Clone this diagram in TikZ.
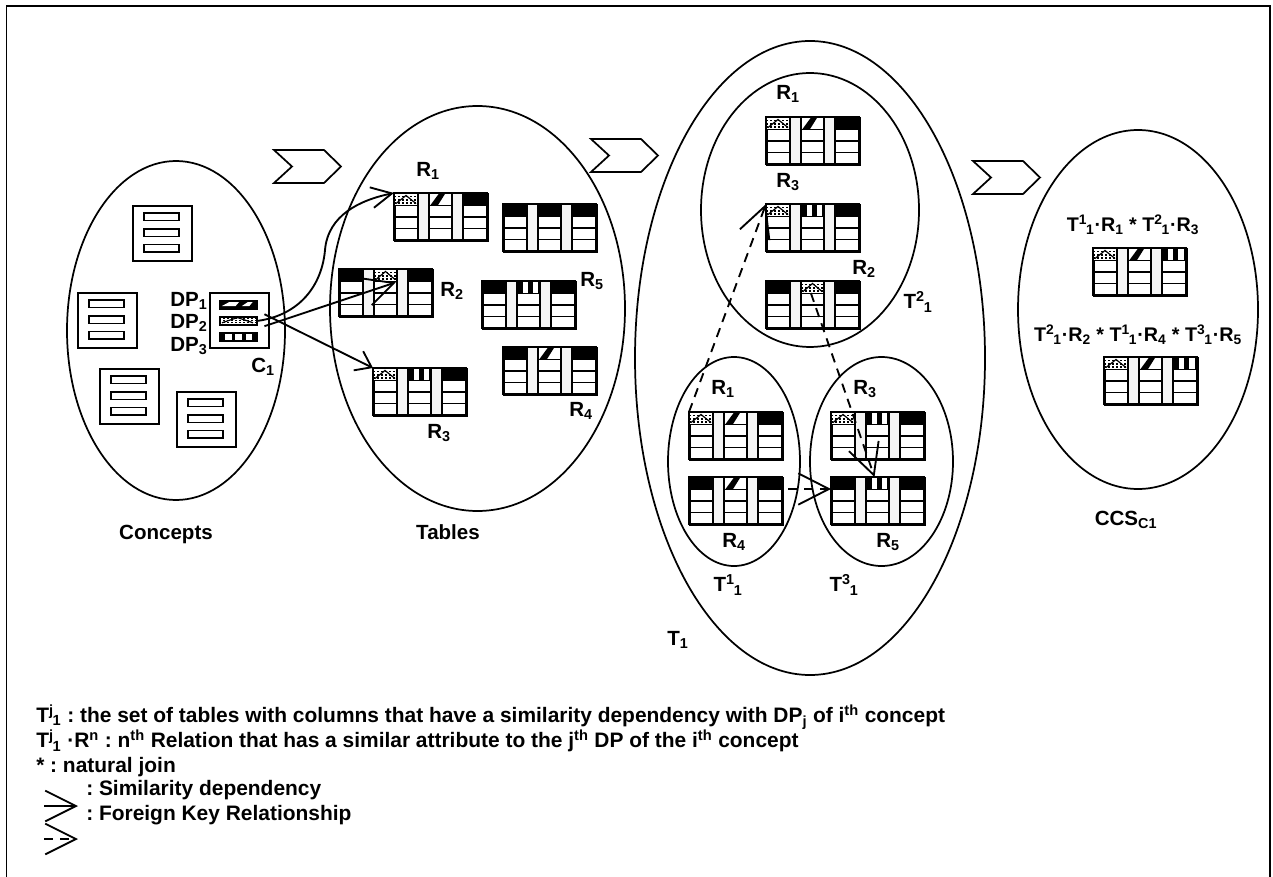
\documentclass[tikz,border=0pt]{standalone}
\usepackage{fontspec}
\setmainfont{Liberation Sans}
\usepackage{tikz}
\usetikzlibrary{shapes.geometric, arrows.meta}

\tikzset{
  lbl/.style={font=\fontsize{15.4pt}{18pt}\bfseries\selectfont,inner sep=0pt},
  joinlbl/.style={font=\fontsize{14.8pt}{18pt}\bfseries\selectfont,inner sep=0pt},
  legendtxt/.style={font=\fontsize{15.7pt}{18pt}\bfseries\selectfont,inner sep=0pt,anchor=west},
  setoval/.style={draw,ellipse,line width=1.3pt,inner sep=0pt},
  conceptbox/.style={draw,line width=1.3pt,fill=white,anchor=north west,inner sep=0pt,
        minimum width=44.25pt,minimum height=41.25pt},
  tablebox/.style={draw,line width=1.5pt,anchor=north west,inner sep=0pt,
        minimum width=69.75pt,minimum height=35.25pt},
  dpbar/.style={draw,line width=1.3pt,anchor=north west,inner sep=0pt,
        minimum width=27.75pt,minimum height=6pt},
  link/.style={line width=1.4pt},
  fklink/.style={line width=1.4pt,dash pattern=on 7pt off 5pt},
  barb/.style 2 args={-{Straight Barb[length=#1,width=#2]}}
}

% header cells, #1 = width, #2 = height
\newcommand{\hdrk}[2]{\fill[black] (0,0) rectangle (#1,#2);}
\newcommand{\hdrv}[2]{\fill[black] (0,0) rectangle (#1,#2);
  \fill[white] (.25*#1,0) rectangle (.46*#1,#2);
  \fill[white] (.68*#1,0) rectangle (.92*#1,#2);}
\newcommand{\hdrt}[2]{\fill[black] (0,0) rectangle (#1,#2);
  \fill[white] (.16*#1,0) rectangle (.34*#1,#2);
  \fill[white] (.43*#1,0) rectangle (.61*#1,#2);
  \fill[white] (.72*#1,0) rectangle (.88*#1,#2);}
\newcommand{\hdrd}[2]{\fill[white] (0,0) rectangle (#1,#2);
  \fill[black] (.05*#1,#2) -- (.45*#1,0) -- (.72*#1,0) -- (.38*#1,#2) -- cycle;}
\newcommand{\hdrb}[2]{\fill[black] (0,0) rectangle (#1,#2);
  \fill[white] (.08*#1,.75*#2) -- (.3*#1,.2*#2) -- (.55*#1,.2*#2) -- (.45*#1,.75*#2) -- cycle;
  \fill[white] (.62*#1,.75*#2) -- (.8*#1,.2*#2) -- (.92*#1,.2*#2) -- (.82*#1,.75*#2) -- cycle;}
\newcommand{\hdrh}[2]{\fill[white] (0,0) rectangle (#1,#2);
  \foreach \hy in {.3,.55,.8}{
    \draw[line width=1pt,dash pattern=on 1.2pt off 1.8pt] (0,\hy*#2) -- (#1,\hy*#2);
  }
  \draw[line width=.9pt] (.08*#1,.85*#2) -- (.5*#1,.2*#2) -- (.92*#1,.85*#2);}

% #1 name, #2 x, #3 y, #4 #5 #6 header cell types
\newcommand{\dbtable}[6]{%
  \node[tablebox,fill=white] (#1) at (#2,#3) {};
  \begin{scope}[shift={(#2,#3)}]
    \fill[black!4] (24,0) rectangle (35,47);
    \fill[black!4] (58,0) rectangle (69,47);
    \foreach \cx/\cw/\ct in {0/24/#4,35/23/#5,69/24/#6}{
      \begin{scope}[shift={(\cx,0)}]
        \csname hdr\ct\endcsname{\cw}{12.5}
        \draw[line width=1.3pt] (0,12.5) -- (\cw,12.5)
           (0,24) -- (\cw,24) (0,35.5) -- (\cw,35.5);
      \end{scope}
    }
    \draw[line width=1.2pt] (24,0) -- (24,47) (35,0) -- (35,47)
       (58,0) -- (58,47) (69,0) -- (69,47);
    \draw[line width=1.5pt] (0,0) rectangle (93,47);
  \end{scope}}

\newcommand{\Tji}[2]{T\textsuperscript{#1}\kern-.8pt\textsubscript{#2}}

\begin{document}
\frenchspacing
\begin{tikzpicture}[x=0.75pt,y=-0.75pt]
  \useasboundingbox (0,0) rectangle (1273,877);
  \draw[line width=1.4pt] (6.5,877) -- (6.5,6) -- (1270,6) -- (1270,877);

  % the sets
  \foreach \nm/\cx/\cy/\w/\h in {
      concepts/176/330.5/218/339,
      tables/477.5/308.5/295/405,
      tOne/810/358/350/634,
      tTwoOne/810/210/218/274,
      tOneOne/734/461.5/132/209,
      tThreeOne/881.5/461.5/143/209,
      ccs/1138/309.5/240/359}{
    \node[setoval,minimum width=\w*0.75pt,minimum height=\h*0.75pt] (\nm) at (\cx,\cy) {};
  }

  % step marks
  \foreach \cx/\cy in {274/150,591/139,973/161}{
    \draw[line width=1.3pt,shift={(\cx,\cy)}]
      (0,0) -- (50,0) -- (67,16.5) -- (50,33) -- (0,33) -- (18,16.5) -- cycle;
  }

  % concept boxes
  \foreach \nm/\cx/\cy in {boxA/132/205,boxB/77/292,boxC/99/368,boxD/176/391,cOne/209/292}{
    \node[conceptbox] (\nm) at (\cx,\cy) {};
  }
  \foreach \cx/\cy in {132/205,77/292,99/368,176/391}{
    \foreach \by in {8,24,39.5}{
      \draw[line width=1.3pt,shift={(\cx,\cy)}] (12,\by) rectangle (47,\by+7.5);
    }
  }
  \foreach \nm/\cy/\ct in {dpone/300/b,dptwo/316/h,dpthree/332/t}{
    \begin{scope}[shift={(219,\cy)}]
      \csname hdr\ct\endcsname{37}{8}
    \end{scope}
    \node[dpbar] (\nm) at (219,\cy) {};
  }

  % tables
  \foreach \nm/\tx/\ty/\ha/\hb/\hc in {
      rOne/394/193/h/d/k,
      rNone/503/204/k/k/k,
      rTwo/339/269/k/h/k,
      rFive/482/281/k/v/k,
      rFour/503/347/k/d/k,
      rThree/373/368/h/v/k,
      tTwoROne/766/117/h/d/k,
      tTwoRThree/766/204/h/v/k,
      tTwoRTwo/766/281/k/h/k,
      tOneROne/689/412/h/d/k,
      tOneRFour/689/477/k/d/k,
      tThreeRThree/831/412/h/v/k,
      tThreeRFive/831/477/k/v/k,
      joinA/1093/248/h/d/v,
      joinB/1104/357/h/d/v}{
    \dbtable{\nm}{\tx}{\ty}{\ha}{\hb}{\hc}
  }

  % labels
  \foreach \nm/\px/\py/\txt in {
      lConcepts/166/534/Concepts,
      lTables/448/532/Tables,
      lCOne/263/367/C\textsubscript{1},
      lROne/428/171/R\textsubscript{1},
      lRTwo/452/291/R\textsubscript{2},
      lRFive/592/281/R\textsubscript{5},
      lRFour/581/411/R\textsubscript{4},
      lRThree/439/433/R\textsubscript{3},
      lTTwoROne/788/94/R\textsubscript{1},
      lTTwoRThree/788/182/R\textsubscript{3},
      lTTwoRTwo/864/269/R\textsubscript{2},
      lTTwoOne/918/302/\Tji{2}{1},
      lTOneROne/723/389/R\textsubscript{1},
      lTOneRFour/734/542/R\textsubscript{4},
      lTThreeRThree/865/389/R\textsubscript{3},
      lTThreeRFive/888/542/R\textsubscript{5},
      lTOneOne/728/585/\Tji{1}{1},
      lTThreeOne/844/585/\Tji{3}{1},
      lTOne/678/640/T\textsubscript{1},
      lCcs/1126/520/CCS\textsubscript{C1}}{
    \node[lbl] (\nm) at (\px,\py) {\txt};
  }
  \node[joinlbl] (lJoinA) at (1133,225) {\Tji{1}{1}·R\textsubscript{1} * \Tji{2}{1}·R\textsubscript{3}};
  \node[joinlbl] (lJoinB) at (1138,335) {\Tji{2}{1}·R\textsubscript{2} * \Tji{1}{1}·R\textsubscript{4} * \Tji{3}{1}·R\textsubscript{5}};
  \foreach \nm/\py/\txt in {
      lDpOne/301/DP\textsubscript{1},
      lDpTwo/323/DP\textsubscript{2},
      lDpThree/346/DP\textsubscript{3}}{
    \node[lbl,anchor=west] (\nm) at (170,\py) {\txt};
  }

  % links from the concept
  \draw[link,barb={15.4pt}{15.6pt}] (dptwo.east) .. controls (300,315) and (322,285) .. (325,250)
     .. controls (328,215) and (360,200) .. (rOne.north west);
  \draw[link,barb={21pt}{21pt}] ([xshift=5pt,yshift=-4pt]dptwo.east)
     -- ([xshift=7pt,yshift=-10pt]rTwo.north);
  \draw[link,barb={11pt}{16pt}] ([xshift=5pt,yshift=5pt]dptwo.east) -- (rThree.north west);

  % foreign keys
  \draw[fklink,barb={23pt}{23.5pt}] (tOneROne.north west) -- (tTwoRThree.north west);
  \draw[fklink,barb={23pt}{23.5pt}] ([xshift=-2pt,yshift=-9pt]tTwoRTwo.north)
     -- ([xshift=-3pt]tThreeRFive.north);
  \coordinate (fkStart) at (788,489);
  \draw[fklink,barb={23pt}{23.5pt}] (fkStart) -- ([yshift=-9pt]tThreeRFive.north west);

  % legend
  \foreach \nm/\py/\txt in {
      legA/717/{\Tji{j}{1} : the set of tables with columns that have a similarity dependency with DP\textsubscript{j} of i\textsuperscript{th} concept},
      legB/741/{\Tji{j}{1} ·R\textsuperscript{n} : n\textsuperscript{th} Relation that has a similar attribute to the j\textsuperscript{th} DP of the i\textsuperscript{th} concept},
      legC/767/{* : natural join}}{
    \node[legendtxt] (\nm) at (36,\py) {\txt};
  }
  \node[legendtxt] (legD) at (86,790) {: Similarity dependency};
  \node[legendtxt] (legE) at (86,815) {: Foreign Key Relationship};
  \coordinate (simA) at (44,806);
  \coordinate (simB) at (78,806);
  \coordinate (fkA) at (44,839);
  \coordinate (fkB) at (78,839);
  \draw[link,barb={23pt}{23pt}] (simA) -- (simB);
  \draw[fklink,barb={23pt}{23pt}] (fkA) -- (fkB);
\end{tikzpicture}
\end{document}
